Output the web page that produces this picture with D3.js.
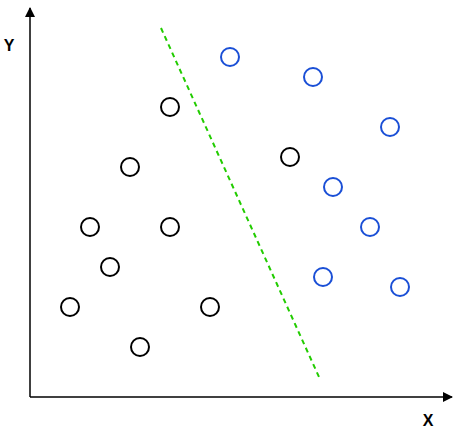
<!DOCTYPE html>
<html><head><meta charset="utf-8">
<script src="https://cdn.jsdelivr.net/npm/d3@7"></script>
<style>body{margin:0;background:#fff}</style></head>
<body><svg id="c" width="459" height="431"></svg>
<script>
const classAX=[7,5,3,7,4,2,9,5.5,13];
const classAY=[14.5,11.5,8.5,8.5,6.5,4.5,4.5,2.5,12];
const classBX=[10,14.15,18,15.15,17,14.65,18.5];
const classBY=[17,16,13.5,10.5,8.5,6,5.5];
const boundaryX=[6.55,14.45];
const boundaryY=[18.45,1];
const axisLabels=["X","Y"];

const svg=d3.select("#c");
const x=d3.scaleLinear().domain([0,21]).range([30,450]);
const y=d3.scaleLinear().domain([0,19.5]).range([397,7]);
const defs=svg.append("defs");
defs.append("marker").attr("id","ar").attr("viewBox","0 0 10 10").attr("refX",9).attr("refY",5)
 .attr("markerWidth",10).attr("markerHeight",10).attr("markerUnits","userSpaceOnUse").attr("orient","auto")
 .append("path").attr("d","M0,0L10,5L0,10Z").attr("fill","#000");
svg.append("line").attr("x1",x(0)).attr("y1",y(0)).attr("x2",x(21.1)).attr("y2",y(0)).attr("stroke","#000").attr("stroke-width",1.5).attr("marker-end","url(#ar)");
svg.append("line").attr("x1",x(0)).attr("y1",y(0)).attr("x2",x(0)).attr("y2",y(19.45)).attr("stroke","#000").attr("stroke-width",1.5).attr("marker-end","url(#ar)");
svg.append("text").attr("x",428).attr("y",426).attr("text-anchor","middle").attr("font-family","Liberation Sans, Arial").attr("font-weight","bold").attr("font-size",16).text(axisLabels[0]);
svg.append("text").attr("x",9).attr("y",51).attr("text-anchor","middle").attr("font-family","Liberation Sans, Arial").attr("font-weight","bold").attr("font-size",16).text(axisLabels[1]);
svg.append("line").attr("x1",x(boundaryX[0])).attr("y1",y(boundaryY[0])).attr("x2",x(boundaryX[1])).attr("y2",y(boundaryY[1]))
 .attr("stroke","#22cc00").attr("stroke-width",2).attr("stroke-dasharray","5,4");
svg.selectAll(".a").data(classAX.map((v,i)=>[v,classAY[i]])).join("circle")
 .attr("cx",d=>x(d[0])).attr("cy",d=>y(d[1])).attr("r",9).attr("fill","none").attr("stroke","#000").attr("stroke-width",2);
svg.selectAll(".b").data(classBX.map((v,i)=>[v,classBY[i]])).join("circle")
 .attr("cx",d=>x(d[0])).attr("cy",d=>y(d[1])).attr("r",9).attr("fill","none").attr("stroke","#1a4fd6").attr("stroke-width",2);
</script></body></html>
